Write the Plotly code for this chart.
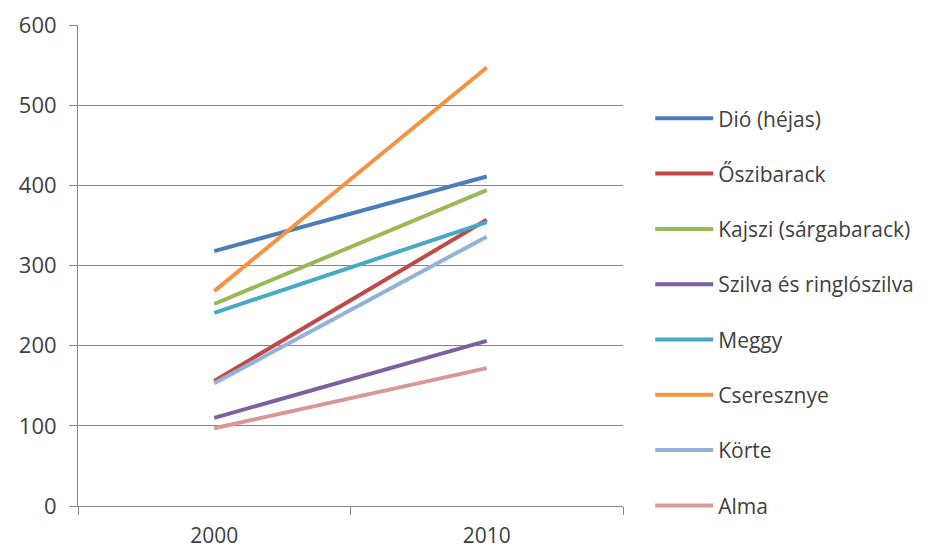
import plotly.graph_objects as go

# Data
years = ["2000", "2010"]
series_names = ["Dió (héjas)", "Őszibarack", "Kajszi (sárgabarack)", "Szilva és ringlószilva",
                "Meggy", "Cseresznye", "Körte", "Alma"]
dio = [318, 411]
oszibarack = [156, 357]
kajszi = [252, 394]
szilva = [110, 206]
meggy = [241, 354]
cseresznye = [268, 547]
korte = [153, 336]
alma = [97, 172]
y_ticks = [0, 100, 200, 300, 400, 500, 600]

values = [dio, oszibarack, kajszi, szilva, meggy, cseresznye, korte, alma]
colors = ["#4A7EBB", "#BE4B48", "#98B954", "#7D60A0", "#46AAC5", "#F69240", "#92B2DA", "#D99795"]

fig = go.Figure()
for name, vals, col in zip(series_names, values, colors):
    fig.add_trace(go.Scatter(x=years, y=vals, name=name, mode="lines", legendgroup=name,
                             line=dict(color=col, width=4)))

# page body adds an 8px margin, so the figure is sized a bit smaller
font = "Open Sans, Noto Sans, sans-serif"
fig.update_layout(
    width=923, height=541,
    margin=dict(l=70, r=308, t=17, b=43, autoexpand=False),
    plot_bgcolor="white", paper_bgcolor="white",
    font=dict(family=font, size=22, color="#404040"),
    xaxis=dict(type="category", range=[-0.5, 1.5], tickson="boundaries", ticks="outside",
               ticklen=8, tickcolor="#868686", showline=True, linecolor="#868686",
               showgrid=False, automargin=False, ticklabelstandoff=11,
               tickfont=dict(size=21, color="#404040")),
    yaxis=dict(range=[0, 600], tickvals=y_ticks, ticks="outside", ticklen=8,
               tickcolor="#868686", showline=True, linecolor="#868686",
               gridcolor="#868686", gridwidth=1, zeroline=False, automargin=False,
               ticklabelstandoff=8, tickfont=dict(size=22, color="#404040")),
    legend=dict(x=1.05, y=0.403, xanchor="left", yanchor="middle", itemwidth=58,
                font=dict(size=21, color="#404040"), tracegroupgap=25,
                maxheight=1, bgcolor="rgba(0,0,0,0)"),
    showlegend=True,
)

fig.write_html("out.html")
